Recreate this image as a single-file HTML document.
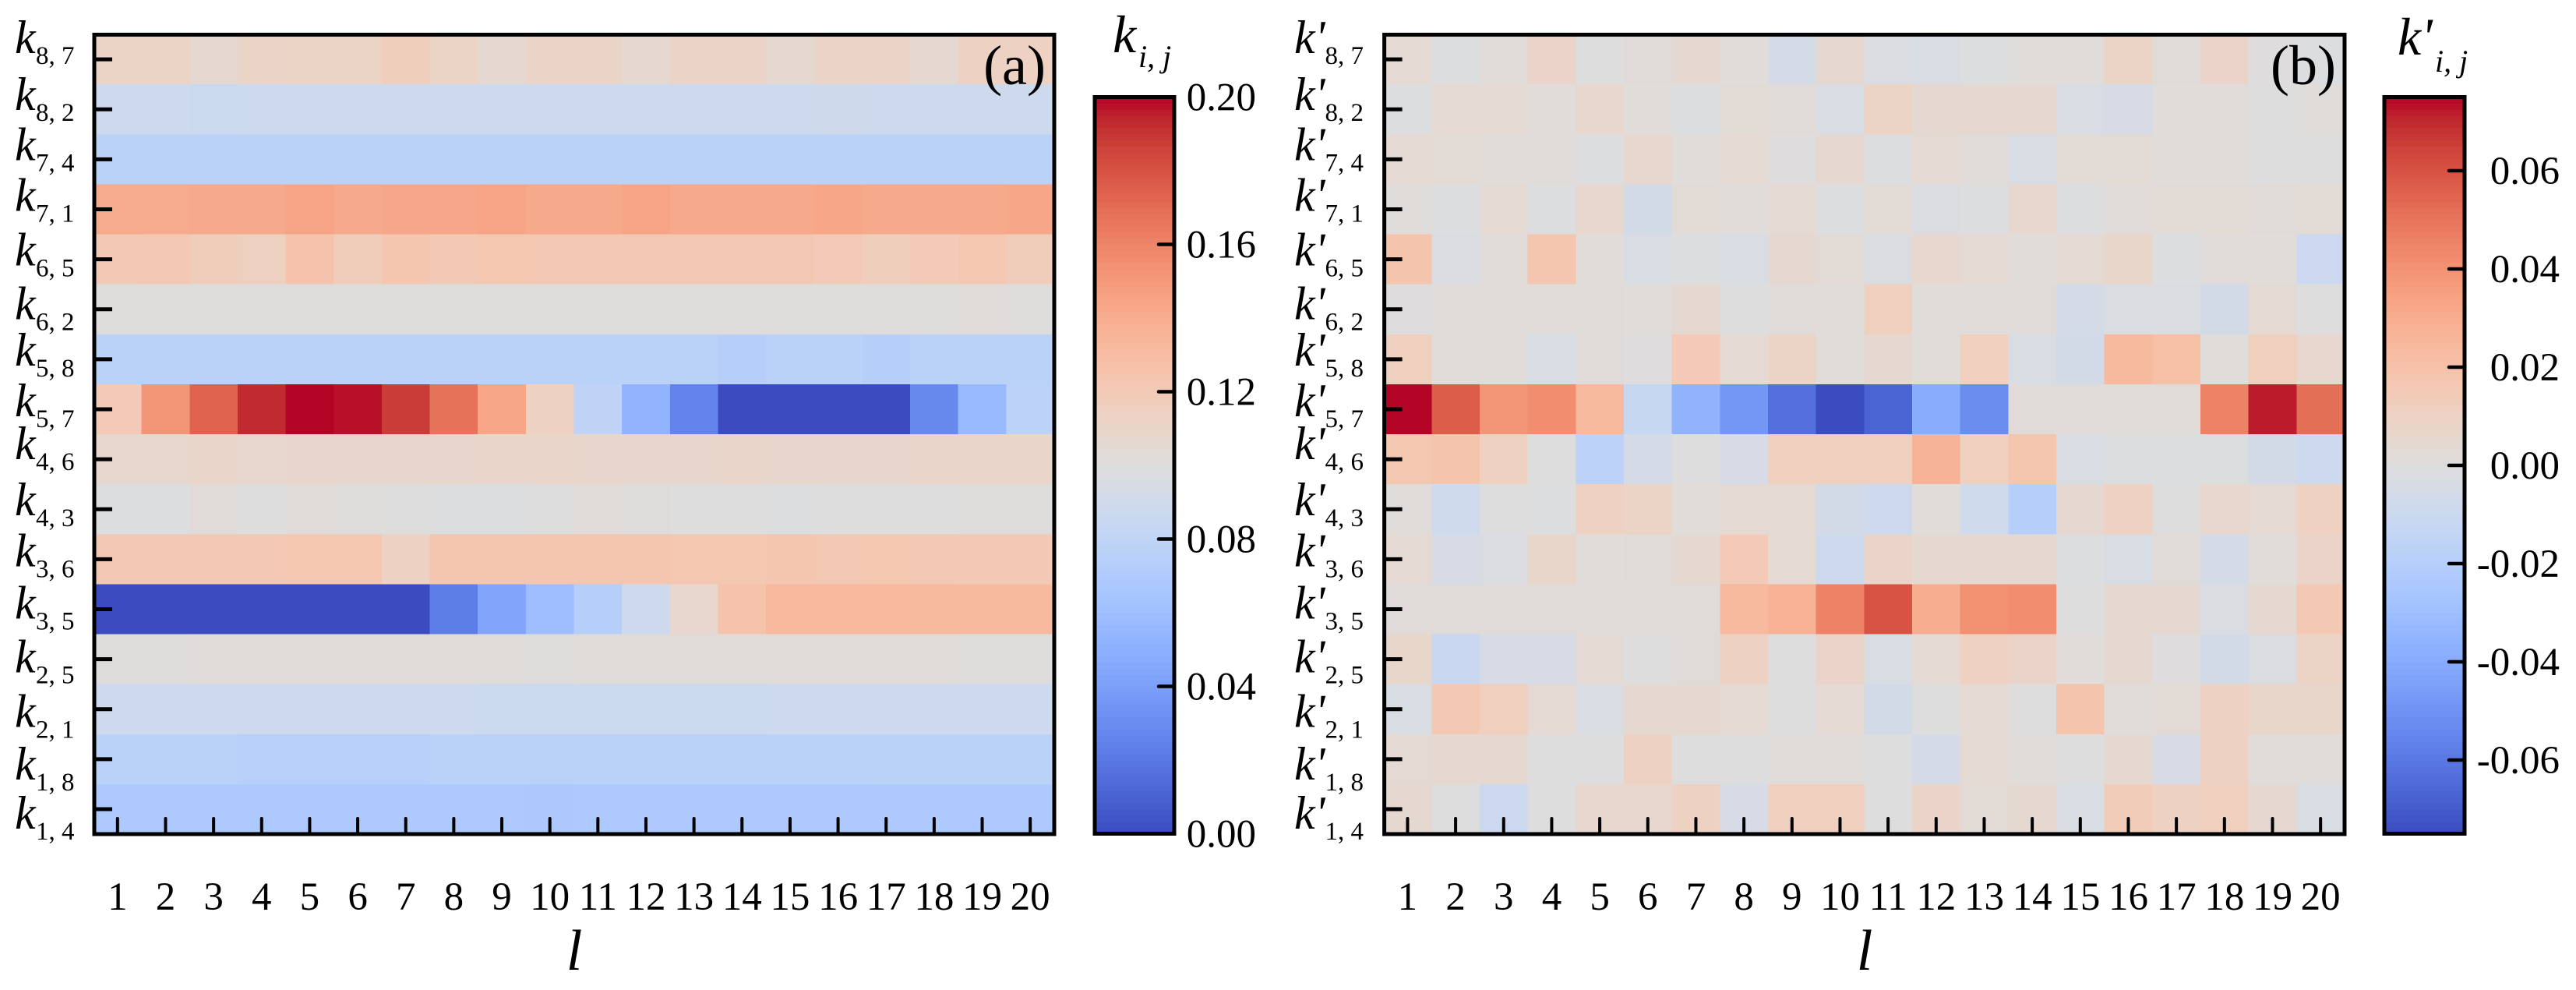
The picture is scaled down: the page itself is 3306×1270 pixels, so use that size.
<!DOCTYPE html>
<html lang="en">
<head>
<meta charset="utf-8">
<title>Heatmaps of k and k-prime</title>
<style>
html,body{margin:0;padding:0;background:#fff;width:3306px;height:1270px;overflow:hidden}
svg{display:block}
text{font-family:"Liberation Serif","Times New Roman",serif;fill:#000}
</style>
</head>
<body>
<svg id="chart" xmlns="http://www.w3.org/2000/svg" width="3306" height="1270" viewBox="0 0 3306 1270"></svg>
<script>
// ---------- categories and tick labels ----------
const lCategories = ['1','2','3','4','5','6','7','8','9','10','11','12','13','14','15','16','17','18','19','20'];
const pairSubscripts = ['8, 7','8, 2','7, 4','7, 1','6, 5','6, 2','5, 8','5, 7','4, 6','4, 3','3, 6','3, 5','2, 5','2, 1','1, 8','1, 4'];
const colorbarTicksA = [0, 0.04, 0.08, 0.12, 0.16, 0.20];
const colorbarTickTextA = ['0.00','0.04','0.08','0.12','0.16','0.20'];
const colorbarTicksB = [-0.06, -0.04, -0.02, 0, 0.02, 0.04, 0.06];
const colorbarTickTextB = ['-0.06','-0.04','-0.02','0.00','0.02','0.04','0.06'];
const domainA = [0, 0.20];
const domainB = [-0.075, 0.075];

// ---------- panel (a) values, k_{i,j}, one row per pair ----------
const k87 = [.112,.112,.106,.111,.112,.112,.117,.112,.106,.111,.111,.106,.111,.111,.106,.111,.111,.106,.114,.114];
const k82 = [.088,.088,.087,.088,.088,.088,.088,.088,.088,.088,.088,.088,.088,.088,.088,.089,.088,.088,.088,.088];
const k74 = [.077,.077,.077,.077,.077,.077,.077,.077,.077,.077,.077,.077,.077,.077,.077,.077,.077,.077,.077,.077];
const k71 = [.141,.141,.142,.142,.145,.142,.143,.143,.145,.142,.142,.145,.142,.142,.142,.144,.142,.142,.142,.144];
const k65 = [.121,.122,.118,.115,.126,.118,.124,.121,.123,.122,.122,.122,.122,.122,.122,.120,.117,.120,.123,.118];
const k62 = [.101,.101,.101,.101,.101,.101,.101,.101,.101,.101,.101,.101,.101,.101,.101,.101,.101,.101,.102,.101];
const k58 = [.077,.076,.077,.077,.077,.077,.077,.077,.077,.076,.076,.077,.077,.073,.076,.076,.073,.077,.077,.077];
const k57 = [.120,.152,.174,.193,.200,.198,.188,.168,.144,.114,.079,.053,.026,0,0,0,0,.028,.057,.078];
const k46 = [.108,.108,.110,.108,.109,.109,.109,.109,.110,.110,.109,.109,.109,.110,.109,.109,.109,.110,.110,.110];
const k43 = [.099,.099,.102,.100,.102,.101,.100,.099,.099,.100,.102,.101,.100,.100,.099,.100,.100,.100,.101,.101];
const k36 = [.122,.122,.122,.122,.123,.123,.114,.124,.124,.124,.124,.124,.123,.123,.124,.122,.123,.122,.121,.121];
const k35 = [0,0,0,0,0,0,0,.023,.044,.060,.074,.088,.108,.126,.133,.133,.133,.132,.132,.132];
const k25 = [.101,.101,.102,.102,.102,.102,.102,.102,.102,.101,.102,.103,.102,.102,.102,.102,.102,.102,.101,.101];
const k21 = [.088,.088,.088,.088,.088,.088,.088,.088,.087,.087,.087,.087,.087,.087,.088,.088,.088,.088,.088,.088];
const k18 = [.076,.076,.076,.075,.075,.075,.075,.076,.076,.076,.076,.076,.076,.076,.076,.076,.077,.077,.077,.077];
const k14 = [.069,.069,.069,.069,.069,.069,.069,.069,.069,.068,.069,.069,.069,.069,.069,.069,.069,.069,.069,.069];
const rowsA = [k87,k82,k74,k71,k65,k62,k58,k57,k46,k43,k36,k35,k25,k21,k18,k14];

// ---------- panel (b) values, k'_{i,j}, one row per pair ----------
const kp87 = [.004,-.001,.002,.008,0,.002,.005,.001,-.005,.005,-.002,-.003,-.001,.001,.001,.009,.002,.008,.0005,-.0005];
const kp82 = [-.001,.004,.004,.001,.006,.001,-.001,.003,.002,-.003,.009,.005,.005,.005,-.003,-.004,.001,.001,0,.001];
const kp74 = [.004,.003,.001,.002,-.001,.006,.001,.004,.0005,.005,-.001,.004,.002,-.003,.003,.003,.001,.001,0,0];
const kp71 = [.001,-.0005,.004,-.001,.006,-.006,.003,.001,.004,-.001,.003,-.002,-.0005,.006,-.001,.002,.003,.003,.002,.003];
const kp65 = [.019,-.002,.002,.018,.001,-.003,-.001,-.003,.005,.003,-.002,.006,.004,.001,.004,.007,-.001,.002,.001,-.01];
const kp62 = [.0005,.002,.002,.001,.002,.001,.005,0,.002,.001,.012,.001,.001,.002,-.005,-.002,-.002,-.006,.004,0];
const kp58 = [.012,.001,.002,-.003,.002,.0005,.015,.004,.009,.001,.005,.001,.012,-.003,-.006,.024,.021,.001,.012,.006];
const kp57 = [.075,.057,.039,.042,.024,-.012,-.036,-.048,-.063,-.075,-.067,-.039,-.052,.002,.002,.002,.002,.046,.072,.052];
const kp46 = [.017,.019,.011,0,-.017,-.005,0,-.004,.012,.012,.012,.027,.012,.018,-.003,-.0005,-.0005,-.0005,-.006,-.009];
const kp43 = [.001,-.008,0,-.001,.011,.009,.001,.004,.004,-.006,-.009,.001,-.008,-.02,.005,.011,0,.006,.004,.011];
const kp36 = [.004,-.004,-.002,.007,.001,.002,.005,.015,.004,-.009,.008,.005,.005,.005,-.001,-.003,.002,-.005,.001,.008];
const kp35 = [.002,.002,.002,.002,.002,.002,.002,.024,.028,.046,.060,.030,.041,.042,0,.005,.005,-.002,.005,.016];
const kp25 = [.007,-.011,-.004,-.004,.004,0,.002,.01,0,.008,-.003,.004,.011,.008,.001,.005,.0005,-.006,-.002,.009];
const kp21 = [-.003,.016,.012,.004,-.003,.005,.005,.004,0,.004,-.006,0,.004,0,.019,.001,.003,.01,.007,.007];
const kp18 = [.004,.005,.005,0,0,.01,0,0,.001,.001,0,-.005,.004,.001,0,.005,-.004,.01,.001,.001];
const kp14 = [.005,0,-.01,0,.006,.006,.01,-.004,.012,.012,0,.008,.003,.005,-.003,.014,.01,.012,.005,-.003];
const rowsB = [kp87,kp82,kp74,kp71,kp65,kp62,kp58,kp57,kp46,kp43,kp36,kp35,kp25,kp21,kp18,kp14];

// ---------- palette and label placement (not data) ----------
const coolwarm = [[59,76,192],[68,90,204],[77,104,215],[87,117,225],[98,130,234],[108,142,241],[119,154,247],[130,165,251],[141,176,254],[152,185,255],[163,194,255],[174,201,253],[184,208,249],[194,213,244],[204,217,238],[213,219,230],[221,221,221],[229,216,209],[236,211,197],[241,204,185],[245,196,173],[247,187,160],[247,177,148],[247,166,135],[244,154,123],[241,141,111],[236,127,99],[229,112,88],[222,96,77],[213,80,66],[203,62,56],[192,40,47],[180,4,38]];
const yLabelNudge = [-8,1,1,2,8,13,8,9,0,8,9,12,17,23,26,25];

const svg = document.getElementById('chart');
const NS = 'http://www.w3.org/2000/svg';
function mk(tag, attrs, parent) {
  const el = document.createElementNS(NS, tag);
  for (const key in attrs) el.setAttribute(key, attrs[key]);
  (parent || svg).appendChild(el);
  return el;
}
function colorOf(value, domain) {
  let t = (value - domain[0]) / (domain[1] - domain[0]);
  t = Math.max(0, Math.min(1, t)) * (coolwarm.length - 1);
  const i = Math.min(coolwarm.length - 2, Math.floor(t));
  const f = t - i;
  const c = coolwarm[i].map((v, k) => Math.round(v + (coolwarm[i + 1][k] - v) * f));
  return 'rgb(' + c.join(',') + ')';
}

function drawPanel(cfg) {
  const g = mk('g', {}, svg);
  
  
  const cols = lCategories.length;
  const rows = pairSubscripts.length;
  const cw = (cfg.x1 - cfg.x0) / cols;
  const rh = (cfg.y1 - cfg.y0) / rows;
  const xBand = i => cfg.x0 + i * cw;
  const yBand = j => cfg.y0 + j * rh;

  // heatmap cells
  cfg.rows.forEach((rowValues, j) => {
    rowValues.forEach((value, i) => {
      const cell = mk('rect', {
        x: xBand(i), y: yBand(j), width: cw + 0.5, height: rh + 0.5,
        fill: colorOf(value, cfg.domain), 'shape-rendering': 'crispEdges'
      }, g);
      
      
    });
  });

  // frame
  const frame = mk('rect', {
    x: cfg.x0 + 1, y: cfg.y0 + 0.5, width: cfg.x1 - cfg.x0 - 1, height: cfg.y1 - cfg.y0 - 0.5,
    fill: 'none', stroke: '#000', 'stroke-width': 5
  }, g);
  
  

  // x ticks and labels
  lCategories.forEach((label, i) => {
    const cx = xBand(i) + cw / 2;
    const tick = mk('line', {
      x1: cx, x2: cx, y1: cfg.y1, y2: cfg.y1 - 20,
      stroke: '#000', 'stroke-width': 4, 'stroke-linecap': 'round'
    }, g);
    
    
    const txt = mk('text', {x: cx, y: 1167, 'text-anchor': 'middle', 'font-size': 51}, g);
    txt.textContent = label;
    
    
  });

  // y ticks and labels
  pairSubscripts.forEach((sub, j) => {
    const cy = yBand(j) + rh / 2;
    const tick = mk('line', {
      x1: cfg.x0 + 1, x2: cfg.x0 + 24, y1: cy, y2: cy,
      stroke: '#000', 'stroke-width': 5
    }, g);
    
    
    const base = cy + yLabelNudge[j];
    const kText = mk('text', {x: cfg.labelX, y: base, 'font-size': 60, 'font-style': 'italic'}, g);
    kText.textContent = cfg.symbol;
    
    
    const subText = mk('text', {x: cfg.subX, y: base + 14, 'font-size': 33, 'xml:space': 'preserve'}, g);
    subText.textContent = sub;
    
    
  });

  // axis title
  const title = mk('text', {x: cfg.titleX, y: 1244, 'font-size': 74, 'font-style': 'italic', 'text-anchor': 'middle'}, g);
  title.textContent = 'l';
  
  

  // panel letter
  const letter = mk('text', {x: cfg.letterX, y: 108, 'font-size': 72, 'text-anchor': 'end'}, g);
  letter.textContent = cfg.letter;
  
  
}

function drawColorbar(cfg) {
  const g = mk('g', {}, svg);
  
  
  const top = 124.5, bottom = 1069.5;
  const yOf = v => bottom - (v - cfg.domain[0]) / (cfg.domain[1] - cfg.domain[0]) * (bottom - top);
  const bands = 120;
  for (let b = 0; b < bands; b++) {
    const lo = cfg.domain[0] + (cfg.domain[1] - cfg.domain[0]) * b / bands;
    const hi = cfg.domain[0] + (cfg.domain[1] - cfg.domain[0]) * (b + 1) / bands;
    const band = mk('rect', {
      x: cfg.x0, y: yOf(hi), width: cfg.x1 - cfg.x0, height: yOf(lo) - yOf(hi) + 0.6,
      fill: colorOf((lo + hi) / 2, cfg.domain), 'shape-rendering': 'crispEdges'
    }, g);
    
    
  }
  const frame = mk('rect', {
    x: cfg.x0, y: top, width: cfg.x1 - cfg.x0, height: bottom - top,
    fill: 'none', stroke: '#000', 'stroke-width': 5
  }, g);
  
  
  cfg.ticks.forEach((v, i) => {
    const y = yOf(v);
    const atEnd = v === cfg.domain[0] || v === cfg.domain[1];
    if (!atEnd) {
      const tick = mk('line', {
        x1: cfg.x1, x2: cfg.x1 - 20, y1: y, y2: y,
        stroke: '#000', 'stroke-width': 4.5, 'stroke-linecap': 'round'
      }, g);
      
      
    }
    const txt = mk('text', {x: cfg.labelRight, y: y + 17, 'font-size': 51, 'text-anchor': 'end'}, g);
    txt.textContent = cfg.tickText[i];
    
    
  });
  const kText = mk('text', {x: cfg.titleX, y: cfg.titleY, 'font-size': 68, 'font-style': 'italic'}, g);
  kText.textContent = cfg.symbol;
  
  
  const subText = mk('text', {x: cfg.subX, y: cfg.subY, 'font-size': 40, 'font-style': 'italic', 'xml:space': 'preserve'}, g);
  subText.textContent = 'i, j';
  
  
}

drawPanel({name: 'k', rows: rowsA, domain: domainA, x0: 120, x1: 1353, y0: 44, y1: 1070,
  symbol: 'k', labelX: 19, subX: 46, titleX: 737, letter: '(a)', letterX: 1342});
drawPanel({name: 'k-prime', rows: rowsB, domain: domainB, x0: 1775.6, x1: 3009, y0: 44, y1: 1070,
  symbol: "k'", labelX: 1661, subX: 1700.5, titleX: 2393, letter: '(b)', letterX: 2998});
drawColorbar({name: 'k', domain: domainA, ticks: colorbarTicksA, tickText: colorbarTickTextA,
  x0: 1405, x1: 1507, labelRight: 1612, symbol: 'k', titleX: 1428, titleY: 67, subX: 1461, subY: 86});
drawColorbar({name: 'k-prime', domain: domainB, ticks: colorbarTicksB, tickText: colorbarTickTextB,
  x0: 3060, x1: 3163, labelRight: 3285, symbol: "k'", titleX: 3077, titleY: 70, subX: 3125, subY: 92});
</script>
</body>
</html>
